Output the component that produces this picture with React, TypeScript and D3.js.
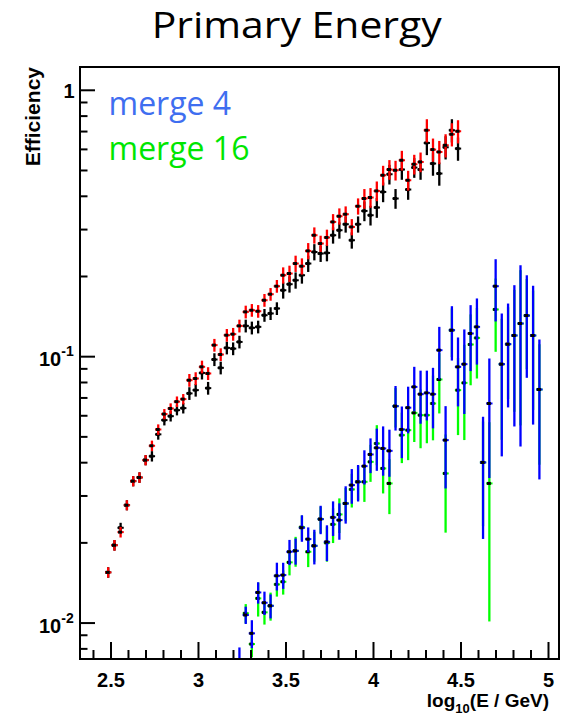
import React from 'react';
import * as d3 from 'd3';

const WIDTH = 574;
const HEIGHT = 719;

// Bin centres in log10(E / GeV)
const logE = [
  2.484, 2.520, 2.555, 2.591, 2.627, 2.663, 2.698, 2.734, 2.770, 2.805,
  2.841, 2.877, 2.913, 2.948, 2.984, 3.020, 3.055, 3.091, 3.127, 3.162,
  3.198, 3.234, 3.270, 3.305, 3.341, 3.377, 3.412, 3.448, 3.484, 3.520,
  3.555, 3.591, 3.627, 3.662, 3.698, 3.734, 3.769, 3.805, 3.841, 3.876,
  3.912, 3.948, 3.983, 4.019, 4.055, 4.091, 4.126, 4.162, 4.198, 4.233,
  4.269, 4.305, 4.340, 4.376, 4.412, 4.448, 4.483, 4.519, 4.555, 4.591,
  4.626, 4.662, 4.698, 4.733, 4.769, 4.805, 4.840, 4.876, 4.912, 4.948,
];

// Unmerged efficiency (red), bins 0..56
const effRed = [
  0.0155, 0.0196, 0.02195, 0.0277, 0.0341, 0.0352, 0.0409, 0.0463, 0.0533, 0.0609,
  0.0639, 0.0678, 0.0693, 0.0816, 0.0828, 0.0916, 0.0865, 0.1105, 0.1019, 0.1204,
  0.1215, 0.1305, 0.1473, 0.1494, 0.1481, 0.1629, 0.1716, 0.1839, 0.2022, 0.2052,
  0.2237, 0.2186, 0.2495, 0.2857, 0.2659, 0.2802, 0.3205, 0.3367, 0.3426, 0.3069,
  0.3671, 0.3924, 0.3958, 0.4190, 0.4798, 0.5041, 0.5010, 0.5462, 0.4595, 0.5277,
  0.5382, 0.7079, 0.5990, 0.5868, 0.6217, 0.6838, 0.7018,
];
const errRed = [
  0.0007, 0.0009, 0.0010, 0.0012, 0.0015, 0.0016, 0.0018, 0.0021, 0.0024, 0.0027,
  0.0029, 0.0031, 0.0031, 0.0045, 0.0046, 0.0050, 0.0048, 0.0061, 0.0056, 0.0066,
  0.0067, 0.0072, 0.0081, 0.0082, 0.0081, 0.0090, 0.0094, 0.0101, 0.0142, 0.0144,
  0.0157, 0.0153, 0.0175, 0.0200, 0.0186, 0.0196, 0.0224, 0.0236, 0.0240, 0.0215,
  0.0257, 0.0334, 0.0336, 0.0356, 0.0408, 0.0428, 0.0426, 0.0464, 0.0391, 0.0449,
  0.0457, 0.0708, 0.0599, 0.0587, 0.0622, 0.0684, 0.0702,
];

// Unmerged efficiency (black), bins 0..56
const effBlack = [
  0.0155, 0.0196, 0.02279, 0.0277, 0.0341, 0.0352, 0.0409, 0.0423, 0.0511, 0.0578,
  0.0598, 0.0630, 0.0641, 0.0728, 0.0749, 0.0869, 0.0762, 0.0976, 0.0908, 0.1079,
  0.1072, 0.1136, 0.1305, 0.1283, 0.1294, 0.1431, 0.1453, 0.1517, 0.1776, 0.1871,
  0.1936, 0.2022, 0.2237, 0.2472, 0.2439, 0.2452, 0.2857, 0.2983, 0.3142, 0.2736,
  0.3142, 0.3525, 0.3396, 0.3630, 0.4154, 0.4840, 0.3924, 0.5041, 0.4241, 0.5128,
  0.5041, 0.6343, 0.5309, 0.4870, 0.6111, 0.7079, 0.6042,
];
const errBlack = [
  0.0007, 0.0009, 0.0010, 0.0012, 0.0015, 0.0016, 0.0018, 0.0019, 0.0023, 0.0026,
  0.0027, 0.0028, 0.0029, 0.0040, 0.0041, 0.0048, 0.0042, 0.0054, 0.0050, 0.0059,
  0.0059, 0.0062, 0.0072, 0.0071, 0.0071, 0.0079, 0.0080, 0.0083, 0.0124, 0.0131,
  0.0136, 0.0142, 0.0157, 0.0173, 0.0171, 0.0172, 0.0200, 0.0209, 0.0220, 0.0192,
  0.0220, 0.0300, 0.0289, 0.0309, 0.0353, 0.0411, 0.0334, 0.0428, 0.0360, 0.0436,
  0.0428, 0.0634, 0.0531, 0.0487, 0.0611, 0.0708, 0.0604,
];

// Merged readouts start at this bin
const MERGE_FIRST_BIN = 21;

// merge 4, bins 21..69
const effMerge4 = [
  0.0068, 0.01072, 0.00915, 0.01303, 0.01192, 0.01161, 0.01505, 0.01514, 0.01852, 0.01867,
  0.02279, 0.02066, 0.0195, 0.02456, 0.02018, 0.02493, 0.02435, 0.02812, 0.03295, 0.0339,
  0.03882, 0.04295, 0.04548, 0.04524, 0.04431, 0.0652, 0.05331, 0.06435, 0.07701, 0.07232,
  0.07313, 0.07232, 0.1058, 0.04861, 0.1257, 0.09156, 0.09374, 0.1222, 0.1294, 0.04009,
  0.06673, 0.1839, 0.09374, 0.1114, 0.1201, 0.1332, 0.1427, 0.1201, 0.07531,
];
const errMerge4 = [
  0.0013, 0.0008, 0.0011, 0.0012, 0.0012, 0.0012, 0.0018, 0.0017, 0.0020, 0.0021,
  0.0026, 0.0022, 0.0029, 0.0030, 0.0031, 0.0037, 0.0038, 0.0045, 0.0049, 0.0053,
  0.0057, 0.0064, 0.0082, 0.0095, 0.0089, 0.0124, 0.0117, 0.0128, 0.0146, 0.0163,
  0.0155, 0.0185, 0.0236, 0.0166, 0.0290, 0.0265, 0.0328, 0.0339, 0.0360, 0.0194,
  0.0317, 0.0483, 0.0515, 0.0469, 0.0654, 0.0872, 0.0594, 0.0645, 0.0407,
];

// merge 16, bins 21..69 (null: empty bin)
const effMerge16 = [
  null, 0.01088, 0.00834, 0.01238, 0.01097, 0.01161, 0.01397, 0.01429, 0.0169, 0.01867,
  0.02292, 0.01852, 0.0195, 0.02456, 0.0200, 0.02347, 0.02558, 0.02812, 0.03175, 0.0339,
  0.0339, 0.04029, 0.04722, 0.03806, 0.03344, 0.0652, 0.05075, 0.05299, 0.06152, 0.06032,
  0.06032, 0.06673, 0.08212, 0.03645, 0.1257, 0.07487, 0.07974, 0.1111, 0.1176, 0.04009,
  0.03344, 0.1504, 0.09374, 0.1114, 0.1201, 0.1332, 0.1427, 0.1201, 0.07531,
];
const errMerge16 = [
  null, 0.0009, 0.0009, 0.0018, 0.0011, 0.0014, 0.0014, 0.0015, 0.0018, 0.0024,
  0.0024, 0.0023, 0.0025, 0.0028, 0.0030, 0.0035, 0.0038, 0.0040, 0.0046, 0.0050,
  0.0054, 0.0064, 0.0081, 0.0074, 0.0078, 0.0110, 0.0109, 0.0121, 0.0137, 0.0150,
  0.0130, 0.0182, 0.0209, 0.0146, 0.0260, 0.0241, 0.0311, 0.0330, 0.0348, 0.0170,
  0.0233, 0.0461, 0.0450, 0.0420, 0.0580, 0.0780, 0.0530, 0.0570, 0.0360,
];

const xMajorTicks = [2.5, 3, 3.5, 4, 4.5, 5];
const xTickLabels = ['2.5', '3', '3.5', '4', '4.5', '5'];
const yDecadeExponents = [-2, -1, 0];
const legendLabels = ['merge 4', 'merge 16'];
const legendColors = ['#3f6ef0', '#00e600'];
const titleText = 'Primary Energy';
const yTitle = 'Efficiency';

type Pt = { x: number; v: number; e: number };

function toPoints(eff: (number | null)[], err: (number | null)[], first: number): Pt[] {
  const out: Pt[] = [];
  eff.forEach((v, i) => {
    if (v != null && err[i] != null) out.push({ x: logE[first + i], v, e: err[i] as number });
  });
  return out;
}

export default function App() {
  const frame = { left: 80, right: 559, top: 67, bottom: 659 };
  const x = d3.scaleLinear().domain([2.323, 5.06]).range([frame.left, frame.right]);
  const y = d3.scaleLog().domain([0.00733, 1.223]).range([frame.bottom, frame.top]);
  const binW = x(logE[1]) - x(logE[0]);

  const helv = '"Liberation Sans", Arial, Helvetica, sans-serif';

  // error-bar cross with a small black marker at the bin value
  const series = (pts: Pt[], color: string, key: string) => (
    <g key={key}>
      {pts.map((p, i) => {
        const cx = x(p.x);
        const cy = y(p.v);
        const top = y(p.v + p.e);
        const bot = y(Math.max(p.v - p.e, 1e-4));
        return (
          <g key={i}>
            <line x1={cx} x2={cx} y1={top} y2={bot} stroke={color} strokeWidth={2.3} />
            <line x1={cx - binW / 2} x2={cx + binW / 2} y1={cy} y2={cy} stroke={color} strokeWidth={2} />
            <rect x={cx - 2.5} y={cy - 1.5} width={4} height={3} fill="#000" />
          </g>
        );
      })}
    </g>
  );

  const xMinor = d3.range(24, 51).map((i) => i / 10);
  const yMinor = y.ticks().filter((t) => Math.abs(Math.log10(t) - Math.round(Math.log10(t))) > 1e-6);

  return (
    <svg
      width={WIDTH}
      height={HEIGHT}
      style={{ position: 'absolute', left: 0, top: 0, background: '#fff' }}
    >
      <rect x={0} y={0} width={WIDTH} height={HEIGHT} fill="#fff" />
      <defs>
        <clipPath id="plot-area">
          <rect x={frame.left} y={frame.top} width={frame.right - frame.left} height={frame.bottom - frame.top} />
        </clipPath>
      </defs>

      <text
        x={296.7}
        y={37.7}
        textAnchor="middle"
        fontFamily='"Open Sans", sans-serif'
        fontSize={36}
        textLength={290}
        lengthAdjust="spacingAndGlyphs"
        fill="#000"
      >
        {titleText}
      </text>

      <g clipPath="url(#plot-area)">
        {series(toPoints(effBlack, errBlack, 0), '#000', 'black')}
        {series(toPoints(effRed, errRed, 0), '#ff0000', 'red')}
        {series(toPoints(effMerge16, errMerge16, MERGE_FIRST_BIN), '#00ff00', 'm16')}
        {series(toPoints(effMerge4, errMerge4, MERGE_FIRST_BIN), '#0000ff', 'm4')}
      </g>

      {/* x-axis ticks */}
      {xMinor.map((t) => {
        const major = Math.round(t * 10) % 5 === 0;
        return (
          <line
            key={'xt' + t}
            x1={x(t)}
            x2={x(t)}
            y1={frame.bottom}
            y2={frame.bottom - (major ? 17 : 9)}
            stroke="#000"
            strokeWidth={2}
          />
        );
      })}
      {/* y-axis ticks */}
      {yMinor.map((t) => (
        <line key={'ym' + t} x1={frame.left} x2={frame.left + 7.5} y1={y(t)} y2={y(t)} stroke="#000" strokeWidth={2} />
      ))}
      {yDecadeExponents.map((p) => (
        <line
          key={'yM' + p}
          x1={frame.left}
          x2={frame.left + 15}
          y1={y(Math.pow(10, p))}
          y2={y(Math.pow(10, p))}
          stroke="#000"
          strokeWidth={2}
        />
      ))}

      <rect
        x={frame.left}
        y={frame.top}
        width={frame.right - frame.left}
        height={frame.bottom - frame.top}
        fill="none"
        stroke="#000"
        strokeWidth={2}
      />

      {/* x tick labels */}
      {xMajorTicks.map((t, i) => (
        <text key={'xl' + t} x={x(t)} y={687} textAnchor="middle" fontFamily={helv} fontWeight="bold" fontSize={20} fill="#000">
          {xTickLabels[i]}
        </text>
      ))}

      {/* y tick labels */}
      {yDecadeExponents.map((p) => {
        const yy = y(Math.pow(10, p));
        if (p === 0) {
          return (
            <text key={'yl' + p} x={74.5} y={yy + 7.3} textAnchor="end" fontFamily={helv} fontWeight="bold" fontSize={20} fill="#000">
              1
            </text>
          );
        }
        return (
          <text key={'yl' + p} x={39} y={yy + 9.5} fontFamily={helv} fontWeight="bold" fontSize={20} fill="#000">
            10
            <tspan dy={-10} fontSize={14}>
              {String(p)}
            </tspan>
          </text>
        );
      })}

      {/* axis titles */}
      <text
        transform="translate(40,67) rotate(-90)"
        textAnchor="end"
        fontFamily={helv}
        fontWeight="bold"
        fontSize={21}
        fill="#000"
      >
        {yTitle}
      </text>
      <text x={549} y={707} textAnchor="end" fontFamily={helv} fontWeight="bold" fontSize={19} fill="#000">
        log
        <tspan dy={6} fontSize={13}>10</tspan>
        <tspan dy={-6}>(E / GeV)</tspan>
      </text>

      {/* legend */}
      {legendLabels.map((l, i) => (
        <text
          key={l}
          x={108.5}
          y={115 + i * 45}
          fontFamily='"Open Sans", sans-serif'
          fontSize={32}
          fill={legendColors[i]}
        >
          {l}
        </text>
      ))}
    </svg>
  );
}
